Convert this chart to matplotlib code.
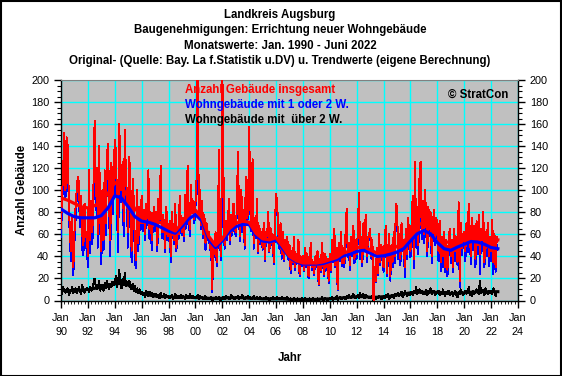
import numpy as np
import matplotlib
matplotlib.use("Agg")
import matplotlib.pyplot as plt
from matplotlib.patches import Rectangle
from matplotlib.ticker import MultipleLocator

plt.rcParams['font.family'] = ['Liberation Sans', 'DejaVu Sans']

title_lines = ["Landkreis Augsburg",
               "Baugenehmigungen: Errichtung neuer Wohngebäude",
               "Monatswerte: Jan. 1990 - Juni 2022",
               "Original- (Quelle: Bay. La f.Statistik u.DV) u. Trendwerte (eigene Berechnung)"]
series_labels = ["Anzahl Gebäude insgesamt", "Wohngebäude mit 1 oder 2 W.", "Wohngebäude mit  über 2 W."]
x_label = "Jahr"
y_label = "Anzahl Gebäude"
credit = "© StratCon"
tick_years = list(range(1990, 2025, 2))
tick_labels = ["Jan\n%02d" % (y % 100) for y in tick_years]

# monthly values, Jan 1990 .. Jun 2022
total = [
    66, 95, 120, 152, 100, 148, 140, 90, 60, 45, 75, 30,
    62, 85, 100, 112, 107, 75, 95, 60, 50, 88, 58, 62,
    40, 118, 55, 90, 62, 105, 163, 95, 120, 60, 140, 78,
    45, 100, 55, 118, 70, 132, 142, 85, 55, 125, 95, 110,
    146, 135, 90, 62, 160, 118, 100, 126, 72, 155, 110, 95,
    62, 130, 103, 45, 110, 90, 48, 37, 100, 52, 85, 70,
    95, 70, 82, 60, 88, 75, 118, 65, 80, 55, 72, 85,
    68, 80, 50, 92, 74, 122, 62, 78, 70, 48, 85, 66,
    58, 72, 40, 80, 62, 55, 88, 48, 66, 60, 95, 70,
    62, 75, 58, 96, 72, 122, 80, 65, 105, 82, 90, 74,
    88, 110, 230, 80, 100, 68, 90, 60, 78, 52, 70, 58,
    62, 48, 55, 10, 50, 42, 62, 35, 55, 137, 52, 40,
    215, 118, 50, 72, 58, 70, 92, 55, 78, 62, 88, 68,
    62, 85, 135, 72, 58, 100, 68, 82, 50, 112, 75, 80,
    157, 85, 65, 128, 52, 75, 60, 92, 45, 68, 55, 62,
    48, 70, 38, 62, 58, 80, 45, 66, 52, 60, 35, 68,
    97, 88, 62, 50, 70, 42, 62, 38, 55, 45, 58, 40,
    50, 28, 45, 35, 58, 30, 42, 38, 55, 24, 40, 34,
    40, 28, 48, 32, 42, 22, 36, 52, 30, 35, 25, 40,
    32, 45, 15, 38, 28, 52, 34, 24, 42, 30, 38, 18,
    42, 28, 55, 36, 65, 32, 48, 10, 52, 40, 62, 34,
    48, 34, 60, 83, 42, 52, 32, 58, 45, 68, 38, 55,
    42, 62, 98, 46, 58, 35, 70, 50, 78, 40, 55, 60,
    65, 40, 55, 0, 30, 18, 48, 25, 60, 35, 50, 42,
    30, 55, 68, 25, 45, 60, 22, 50, 35, 62, 40, 88,
    84, 45, 60, 38, 70, 48, 55, 30, 65, 42, 75, 52,
    45, 70, 95, 38, 126, 60, 85, 50, 110, 126, 65, 90,
    60, 100, 75, 45, 85, 65, 80, 40, 70, 82, 55, 75,
    68, 45, 72, 35, 58, 40, 62, 30, 55, 28, 50, 65,
    40, 55, 30, 65, 45, 58, 35, 89, 18, 70, 48, 60,
    62, 45, 70, 52, 88, 60, 40, 75, 55, 68, 38, 72,
    50, 78, 42, 65, 55, 80, 35, 62, 48, 70, 40, 58,
    45, 73, 35, 60, 30, 58]

one_two = [
    58, 89, 108, 143, 93, 138, 129, 85, 52, 36, 63, 23,
    53, 74, 93, 102, 95, 67, 89, 46, 41, 81, 48, 51,
    30, 110, 43, 81, 51, 90, 143, 82, 110, 48, 122, 69,
    33, 86, 46, 102, 59, 114, 129, 75, 40, 113, 78, 96,
    130, 113, 78, 44, 132, 103, 89, 106, 58, 130, 97, 78,
    48, 112, 91, 35, 95, 81, 35, 29, 89, 45, 75, 64,
    86, 63, 74, 55, 78, 68, 112, 56, 74, 46, 68, 78,
    63, 73, 45, 86, 70, 114, 57, 74, 63, 44, 79, 61,
    54, 69, 35, 74, 60, 51, 81, 45, 61, 56, 92, 64,
    59, 70, 54, 93, 66, 117, 77, 58, 101, 79, 85, 70,
    84, 104, 148, 78, 94, 65, 86, 57, 75, 46, 67, 55,
    59, 46, 51, 8, 47, 39, 58, 31, 53, 128, 50, 37,
    131, 113, 47, 68, 55, 66, 89, 51, 73, 59, 84, 66,
    58, 82, 131, 70, 54, 97, 62, 79, 47, 108, 72, 75,
    120, 81, 63, 125, 47, 73, 57, 88, 43, 65, 51, 60,
    46, 67, 36, 58, 56, 77, 44, 63, 50, 56, 33, 65,
    88, 84, 60, 47, 68, 38, 59, 36, 52, 43, 54, 37,
    48, 25, 44, 33, 55, 28, 41, 35, 53, 22, 39, 31,
    38, 27, 45, 30, 41, 20, 33, 51, 28, 32, 23, 39,
    30, 42, 14, 36, 26, 48, 33, 22, 39, 28, 37, 16,
    39, 26, 51, 35, 61, 30, 43, 9, 49, 36, 60, 31,
    45, 30, 58, 77, 39, 46, 28, 55, 40, 61, 34, 52,
    38, 56, 93, 38, 53, 31, 63, 47, 72, 35, 51, 57,
    62, 38, 51, 0, 28, 17, 45, 23, 56, 32, 49, 40,
    26, 53, 63, 22, 39, 59, 18, 47, 30, 60, 34, 84,
    79, 38, 56, 32, 62, 45, 50, 21, 59, 38, 68, 47,
    39, 62, 90, 29, 115, 48, 79, 42, 100, 112, 56, 84,
    52, 94, 65, 40, 76, 58, 69, 34, 62, 73, 50, 68,
    61, 36, 67, 27, 52, 30, 55, 26, 47, 22, 41, 60,
    34, 47, 26, 58, 36, 53, 32, 81, 12, 60, 41, 55,
    55, 36, 64, 44, 76, 55, 33, 71, 46, 62, 30, 62,
    42, 72, 24, 58, 45, 71, 30, 51, 40, 64, 31, 51,
    36, 67, 24, 53, 26, 50]

over2 = [
    8, 6, 12, 9, 7, 10, 11, 5, 8, 9, 12, 7,
    9, 11, 7, 10, 12, 8, 6, 14, 9, 7, 10, 11,
    10, 8, 12, 9, 11, 15, 20, 13, 10, 12, 18, 9,
    12, 14, 9, 16, 11, 18, 13, 10, 15, 12, 17, 14,
    16, 22, 12, 18, 28, 15, 11, 20, 14, 25, 13, 17,
    14, 18, 12, 10, 15, 9, 13, 8, 11, 7, 10, 6,
    8, 5, 7, 3, 9, 6, 4, 8, 5, 7, 3, 6,
    4, 6, 3, 5, 2, 7, 4, 3, 6, 2, 5, 4,
    3, 2, 4, 5, 1, 3, 6, 2, 4, 3, 2, 5,
    2, 4, 3, 1, 5, 3, 2, 6, 3, 2, 4, 3,
    3, 2, 5, 1, 4, 2, 3, 1, 2, 4, 1, 2,
    2, 1, 3, 0, 2, 1, 3, 2, 1, 3, 0, 1,
    2, 3, 1, 4, 2, 3, 1, 2, 5, 2, 3, 1,
    3, 2, 4, 1, 3, 2, 5, 2, 1, 3, 2, 4,
    2, 3, 1, 2, 4, 1, 2, 3, 1, 2, 3, 1,
    1, 2, 1, 3, 1, 2, 0, 2, 1, 3, 1, 2,
    2, 3, 1, 2, 1, 3, 2, 1, 2, 1, 3, 2,
    1, 2, 0, 1, 2, 1, 0, 2, 1, 1, 0, 2,
    1, 0, 2, 1, 0, 1, 2, 0, 1, 2, 1, 0,
    1, 2, 0, 1, 1, 3, 0, 1, 2, 1, 0, 1,
    2, 1, 3, 0, 2, 1, 4, 0, 2, 3, 1, 2,
    2, 3, 1, 4, 2, 5, 3, 2, 4, 6, 3, 2,
    3, 5, 2, 7, 4, 3, 6, 2, 5, 4, 3, 2,
    3, 2, 4, 0, 2, 1, 3, 2, 4, 3, 1, 2,
    4, 2, 5, 3, 6, 1, 4, 3, 5, 2, 6, 4,
    5, 7, 4, 6, 8, 3, 5, 9, 6, 4, 7, 5,
    6, 8, 5, 9, 7, 12, 6, 8, 10, 7, 9, 6,
    8, 6, 10, 5, 9, 7, 11, 6, 8, 9, 5, 7,
    7, 9, 5, 8, 6, 10, 7, 4, 8, 6, 9, 5,
    6, 8, 4, 7, 9, 5, 3, 8, 6, 10, 7, 5,
    7, 9, 6, 8, 12, 5, 7, 4, 9, 6, 8, 10,
    8, 6, 18, 7, 10, 9, 5, 11, 8, 6, 9, 7,
    9, 6, 11, 7, 4, 8]

# half-yearly trend values (Jan / Jul), 1990 .. mid 2022
trend_total = [93, 91, 88, 85, 84, 86, 90, 97, 107, 103, 94, 83, 78, 76, 73, 70, 66, 63, 70, 78, 82, 75,
               58, 50, 56, 65, 70, 72, 71, 61, 56, 55, 57, 49, 40, 36, 34, 34, 34, 35, 37, 39,
               43, 45, 48, 49, 46, 43, 44, 46, 49, 53, 61, 68, 71, 68, 60, 54, 52, 55, 58, 61, 61, 59, 56, 55]
trend_one_two = [83, 79, 76, 75, 75, 75, 77, 84, 95, 93, 85, 76, 72, 71, 69, 66, 63, 61, 67, 74, 78, 72,
                 55, 48, 54, 62, 67, 69, 69, 59, 54, 53, 55, 47, 39, 35, 33, 33, 33, 33.5, 35.5, 37,
                 40.5, 42, 44.5, 45.5, 43, 40, 40.5, 42, 44, 47, 54, 60.5, 63.5, 60.5, 52.5, 47, 45.5, 48.5, 51, 53.5, 53, 51, 48, 47]
trend_over2 = [9, 9, 9, 9.5, 10, 11, 12, 13.5, 15, 15.5, 14, 10, 6.5, 5, 4, 3.5, 3.5, 3, 3, 3, 2.5, 2.5,
               2, 2, 2, 2.5, 2.5, 2.5, 2, 2, 1.5, 1.5, 1.5, 1.5, 1, 1, 1, 1, 1, 1.5, 1.5, 2,
               2.5, 3, 3.5, 3.5, 3, 3, 3.5, 4, 5, 6, 7, 7.5, 7.5, 7.5, 7.5, 7, 6.5, 6.5, 7, 7.5, 8, 8, 8, 8]

W, H = 562, 376
fig = plt.figure(figsize=(W / 100, H / 100), dpi=100)
fig.patch.set_facecolor('white')
ax = fig.add_axes([61 / W, (H - 300.5) / H, 457 / W, 220.5 / H])
ax.set_facecolor('#C0C0C0')

xm = 1990 + np.arange(len(total)) / 12.0
xt = 1990 + np.arange(len(trend_total)) * 0.5

ax.plot(xm, over2, color='black', lw=0.7, zorder=3, antialiased=False)
ax.plot(xt, trend_over2, color='black', lw=2.2, zorder=4)
ax.plot(xm, one_two, color='#0000FF', lw=0.7, zorder=5, antialiased=False)
ax.plot(xm, total, color='#FF0000', lw=0.7, zorder=6, antialiased=False)
ax.plot(xt, trend_one_two, color='#0000FF', lw=2.3, zorder=7)
ax.plot(xt, trend_total, color='#FF0000', lw=2.3, zorder=8)

ax.set_xlim(1990, 2024)
ax.set_ylim(0, 200)
ax.set_xticks(tick_years)
ax.set_xticklabels(tick_labels, fontsize=7.8, linespacing=1.5)
ax.set_yticks(range(0, 201, 20))
ax.yaxis.set_minor_locator(MultipleLocator(5))
ax.xaxis.set_minor_locator(MultipleLocator(1 / 4))
ax.tick_params(axis='both', which='major', direction='out', length=5, width=1, labelsize=7.8, color='black')
ax.tick_params(axis='y', which='both', right=True, labelright=True)
ax.tick_params(axis='y', which='minor', length=3, width=0.8)
ax.tick_params(axis='x', which='minor', length=2, width=0.6)
ax.tick_params(axis='x', which='major', pad=4)
ax.grid(True, which='major', color='#00FFFF', lw=1.0, zorder=1)
ax.set_axisbelow(True)
for s in ['left', 'bottom', 'right']:
    ax.spines[s].set_color('black')
    ax.spines[s].set_linewidth(1)
ax.spines['top'].set_color('#808080')

ax.set_xlabel(x_label, fontsize=8.3, fontweight='bold', labelpad=11)
ax.set_ylabel(y_label, fontsize=8.3, fontweight='bold')
ax.yaxis.set_label_coords((28 - 61) / 457, 0.5)

for i, t in enumerate(title_lines):
    fig.text(280 / W, 1 - (15 + 15.4 * i) / H, t, ha='center', va='center', fontsize=8.3, fontweight='bold')

cols = ['#FF0000', '#0000FF', 'black']
for i, (lab, c) in enumerate(zip(series_labels, cols)):
    fig.text(185 / W, 1 - (90 + 15 * i) / H, lab, color=c, ha='left', va='center', fontsize=8.3,
             fontweight='bold', zorder=10)
fig.text(508 / W, 1 - 95 / H, credit, ha='right', va='center', fontsize=8.3, fontweight='bold')

fig.patches.append(Rectangle((0.5 / W, 0.5 / H), 1 - 1.5 / W, 1 - 1.5 / H, transform=fig.transFigure,
                             fill=False, edgecolor='black', lw=1.5))

fig.savefig('out.png', dpi=100, facecolor='white')
